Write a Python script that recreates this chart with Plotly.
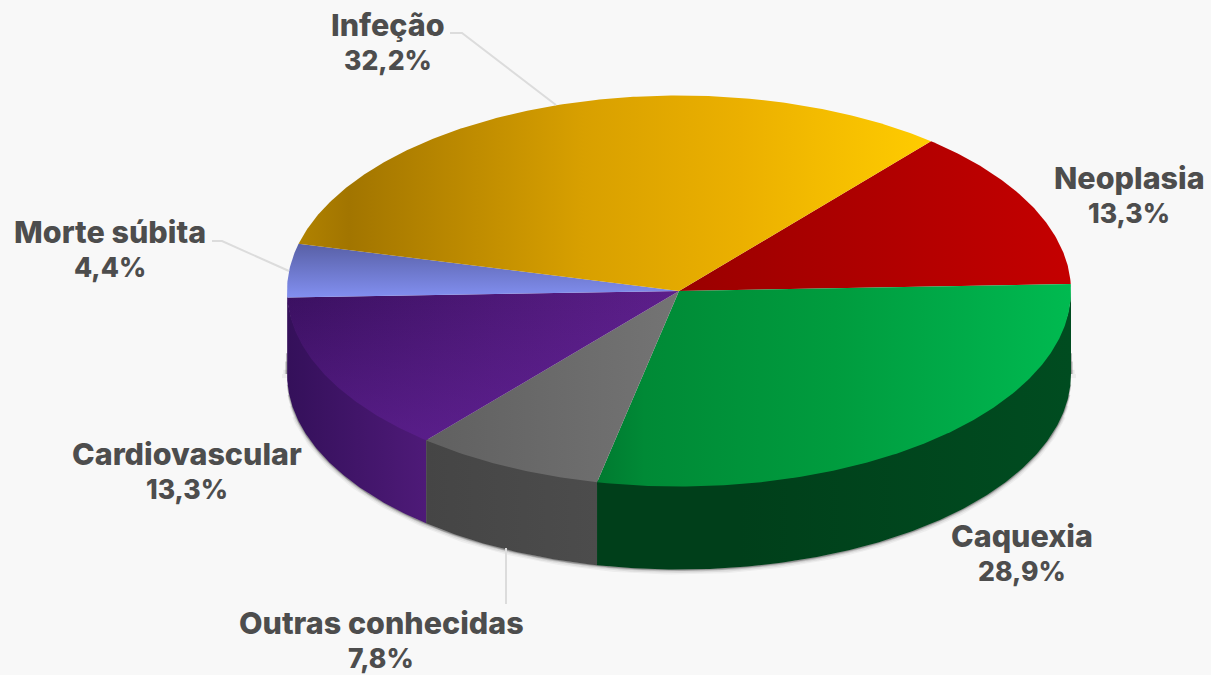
import numpy as np
import plotly.graph_objects as go

# Data
categories = ["Neoplasia", "Caquexia", "Outras conhecidas", "Cardiovascular", "Morte súbita", "Infeção"]
values = [13.3, 28.9, 7.8, 13.3, 4.4, 32.2]

# Styles
top_scales = {
    "Neoplasia": ("horizontal", [[0, "#9a0000"], [1, "#c40000"]]),
    "Caquexia": ("horizontal", [[0, "#007a30"], [0.1, "#008a36"], [0.5, "#009c3e"], [0.75, "#00aa48"], [1, "#00ba50"]]),
    "Outras conhecidas": ("horizontal", [[0, "#606060"], [1, "#747474"]]),
    "Cardiovascular": ("horizontal", [[0, "#3a1060"], [1, "#5c1f8a"]]),
    "Morte súbita": ("vertical", [[0, "#828ff0"], [1, "#5860a6"]]),
    "Infeção": ("horizontal", [[0, "#b08200"], [0.08, "#a27500"], [0.45, "#d8a000"], [0.7, "#ebb000"], [1, "#ffcc00"]]),
}
# Second pass on a face, turns its sideways shading into a slanted one
top_overlays = {
    "Cardiovascular": [[0, "rgba(112,40,170,0.45)"], [1, "rgba(112,40,170,0)"]],
}
side_scales = {
    "Neoplasia": [[0, "#00441c"], [1, "#00441c"]],
    "Caquexia": [[0, "#003f1a"], [0.3, "#003f1a"], [1, "#004c20"]],
    "Outras conhecidas": [[0, "#454545"], [1, "#4c4c4c"]],
    "Cardiovascular": [[0, "#34105a"], [1, "#4e1a78"]],
    "Morte súbita": [[0, "#34105a"], [1, "#34105a"]],
    "Infeção": [[0, "#34105a"], [1, "#34105a"]],
}
label_pos = {
    "Infeção": (388, 42), "Neoplasia": (1129, 195), "Caquexia": (1022, 553),
    "Outras conhecidas": (381, 640), "Cardiovascular": (187, 471), "Morte súbita": (110, 249),
}
leaders = [
    [(450, 33), (462, 33), (556, 105)],
    [(212, 241), (222, 241), (289, 271)],
    [(506, 548), (506, 604)],
]
W, H = 1211, 675
CX, CY, RX, RY, DEPTH = 679, 291, 392, 195.5, 83
START = 40.0
BG = "#f8f8f8"
TEXT = "#4d4d4d"
LINE_GAP = 35
NAME_SIZE, PCT_SIZE = 30.5, 26.5


def px(x):
    return (x - CX) / RX


def py(y):
    return (CY - y) / RY


def arc(a0, a1, dy=0.0):
    a = np.radians(np.linspace(a0, a1, max(int(abs(a1 - a0) * 2), 2)))
    return np.sin(a), np.cos(a) - dy


fig = go.Figure()
d = DEPTH / RY

# Soft shadow round the lower rim: wider passes start lower so that it tapers
for w, alpha, off, start in [(7, 0.05, 1.5, 0.40), (5, 0.08, 1.0, 0.30), (3, 0.16, 0.5, 0.20), (1.5, 0.3, 0.3, 0.10)]:
    x, y = arc(90 + start * 30, 270 - start * 30, d + off / RY)
    fig.add_trace(go.Scatter(
        x=x, y=y, mode="lines", line=dict(color=f"rgba(40,40,40,{alpha})", width=w),
        hoverinfo="skip", showlegend=False))
    fig.add_trace(go.Scatter(
        x=[1 + off / RX, 1 + off / RX, None, -1 - off / RX, -1 - off / RX],
        y=[-d * (0.65 + start), -d, None, -d * (0.65 + start), -d],
        mode="lines", line=dict(color=f"rgba(40,40,40,{alpha})", width=w),
        hoverinfo="skip", showlegend=False))

# Slices
total = sum(values)
bounds = START + np.r_[0, np.cumsum(values)] / total * 360

# Side walls (only the front half of the cylinder shows)
for cat, a0, a1 in zip(categories, bounds[:-1], bounds[1:]):
    lo, hi = max(a0, 90), min(a1, 270)
    if hi <= lo:
        continue
    xu, yu = arc(lo, hi, -2 / RY)
    xl, yl = arc(lo, hi, d)
    fig.add_trace(go.Scatter(
        x=np.r_[xu, xl[::-1], xu[0]], y=np.r_[yu, yl[::-1], yu[0]],
        mode="lines", fill="toself", line=dict(width=0),
        fillgradient=dict(type="horizontal", colorscale=side_scales[cat]),
        name=cat, hoverinfo="name", showlegend=False))

# Top faces
for cat, a0, a1 in zip(categories, bounds[:-1], bounds[1:]):
    xa, ya = arc(a0, a1)
    kind, scale = top_scales[cat]
    fig.add_trace(go.Scatter(
        x=np.r_[0, xa, 0], y=np.r_[0, ya, 0],
        mode="lines", fill="toself", line=dict(width=0),
        fillgradient=dict(type=kind, colorscale=scale),
        name=cat, hoverinfo="name", showlegend=False))
    if cat in top_overlays:
        fig.add_trace(go.Scatter(
            x=np.r_[0, xa, 0], y=np.r_[0, ya, 0],
            mode="lines", fill="toself", line=dict(width=0),
            fillgradient=dict(type="vertical", colorscale=top_overlays[cat]),
            hoverinfo="skip", showlegend=False))

# Leader lines
for pts in leaders:
    fig.add_trace(go.Scatter(
        x=[px(p[0]) for p in pts], y=[py(p[1]) for p in pts],
        mode="lines", line=dict(color="#dcdcdc", width=2),
        hoverinfo="skip", showlegend=False))

# Labels
for cat, v in zip(categories, values):
    lx, ly = label_pos[cat]
    txt = f"{v:.1f}".replace(".", ",")
    for line, off, size in ((cat, -LINE_GAP / 2, NAME_SIZE), (f"{txt}%", LINE_GAP / 2, PCT_SIZE)):
        fig.add_annotation(x=px(lx), y=py(ly + off), text=line, showarrow=False,
                           xanchor="center", yanchor="middle", align="center",
                           font=dict(family="Inter", size=size, weight=800, color=TEXT))

fig.update_layout(
    width=W, height=H, margin=dict(l=0, r=0, t=0, b=0),
    paper_bgcolor=BG, plot_bgcolor=BG, showlegend=False,
    xaxis=dict(range=[px(0), px(W)], visible=False, fixedrange=True),
    yaxis=dict(range=[py(H), py(0)], visible=False, fixedrange=True),
)
fig.write_html("out.html", post_script="document.body.style.margin='0';document.body.style.background='%s';" % BG,
               config={"displayModeBar": False})
